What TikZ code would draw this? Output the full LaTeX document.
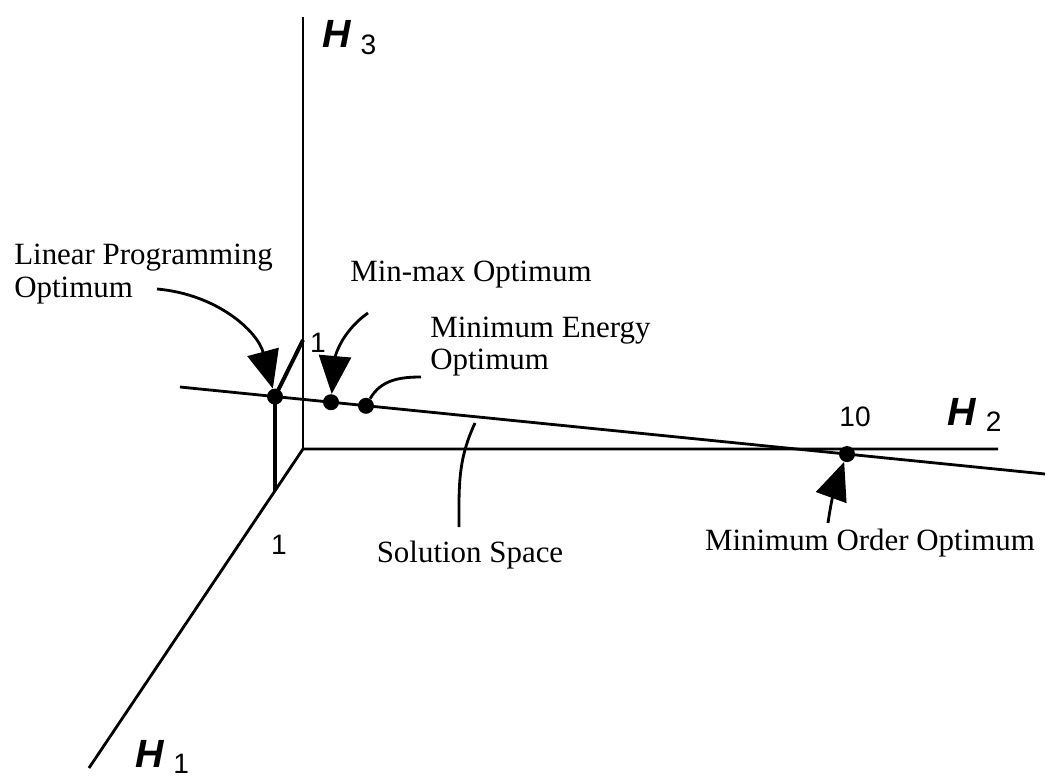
\documentclass[tikz,border=0pt]{standalone}
\usepackage{fontspec}
\setmainfont{Liberation Serif}
\newfontfamily\numfont{Liberation Sans}
\usepackage{tikz}
\usetikzlibrary{arrows.meta}
\newcommand{\haxis}[1]{{\fontsize{28}{28}\selectfont\bfseries\itshape H}\hspace{0.35em}\raisebox{-0.45ex}{#1}}

\begin{document}
\begin{tikzpicture}[
    axis/.style={line width=2pt},
    corner/.style={line width=2.8pt},
    dot/.style={circle,fill,inner sep=0pt,minimum size=0.4cm},
    pointer/.style={line width=2pt},
    tip/.style={-{Triangle[length=0.95cm,width=0.8cm]}},
    lbl/.style={font=\fontsize{22}{23}\selectfont,inner sep=0pt},
    num/.style={font=\numfont\fontsize{20}{20}\selectfont,inner sep=0pt}]
    \useasboundingbox (-7.575,-8.275) rectangle (18.725,11.225);
    % axes
    \coordinate (O) at (0,0);
    \coordinate (x1) at (-5.35,-7.975);
    \coordinate (x2) at (17.375,0);
    \coordinate (x3) at (0,10.8);
    \draw[axis] (x1) -- (O) -- (x2);
    \draw[axis] (O) -- (x3);
    \node[num] (h1) at (-3.525,-7.7) {\haxis{1}};
    \node[num] (h2) at (16.79,0.85) {\haxis{2}};
    \node[num] (h3) at (1.16,10.29) {\haxis{3}};
    % solution space
    \coordinate (sA) at (-3.075,1.55);
    \coordinate (sB) at (18.55,-0.625);
    \draw[axis] (sA) -- (sB);
    \node[dot] (lp) at (-0.7,1.31) {};
    \node[dot] (mm) at (0.7,1.17) {};
    \node[dot] (me) at (1.575,1.08) {};
    \node[dot] (mo) at (13.6,-0.127) {};
    \coordinate (h1one) at (-0.7,-1.05);
    \coordinate (h3one) at (0,2.725);
    \draw[corner] (lp.center) -- (h1one);
    \draw[corner] (lp.center) -- (h3one);
    \node[num] (one3) at (0.375,2.65) {1};
    \node[num] (one1) at (-0.6,-2.4) {1};
    \node[num] (ten) at (13.8,0.8) {10};
    % labels
    \node[lbl,align=left,anchor=west] (lpText) at (-7.225,4.375) {Linear Programming\\Optimum};
    \node[lbl] (mmText) at (4.2,4.35) {Min-max Optimum};
    \node[lbl,align=left,anchor=west] (meText) at (3.175,2.56) {Minimum Energy\\Optimum};
    \node[lbl] (ssText) at (4.175,-2.65) {Solution Space};
    \node[lbl] (moText) at (14.175,-2.35) {Minimum Order Optimum};
    % pointers
    \coordinate (lpStart) at (-3.65,4.0);
    \coordinate (mmStart) at (1.625,3.4);
    \coordinate (meStart) at (2.95,1.8);
    \coordinate (ssStart) at (3.9,-1.95);
    \coordinate (ssEnd) at (4.3,0.65);
    \coordinate (moStart) at (13.125,-1.85);
    \draw[pointer,tip] (lpStart) to[out=-5,in=105] (lp);
    \draw[pointer,tip] (mmStart) to[out=215,in=85] (mm);
    \draw[pointer] (meStart) to[out=180,in=60] (me);
    \draw[pointer] (ssStart) to[out=90,in=-115] (ssEnd);
    \draw[pointer,tip] (moStart) to[out=82,in=-110] (mo);
\end{tikzpicture}
\end{document}
